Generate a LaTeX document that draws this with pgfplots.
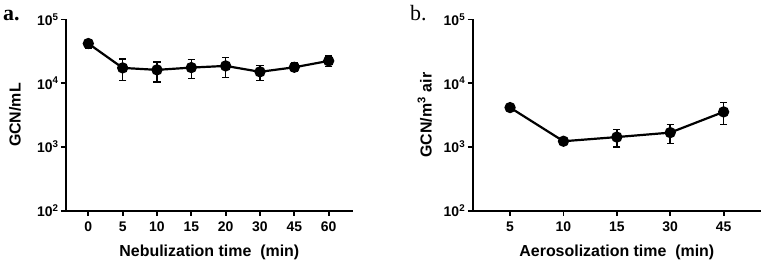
\documentclass[border=0pt]{standalone}
\usepackage{fontspec}
\setmainfont{Liberation Sans}
\newfontfamily\seriffont{Liberation Serif}
\usepackage{pgfplots}
\pgfplotsset{compat=1.18}
\pgfplotstableread{
x y ep em
0 42000 6500 6100
1 17400 6400 6300
2 16200 5400 5800
3 17600 6000 5800
4 18700 6600 6400
5 15100 3800 4000
6 17800 3000 2600
7 22400 4200 4100
}\dataA
\pgfplotstableread{
x y ep em
0 4150 470 430
1 1230 50 50
2 1430 460 440
3 1680 560 550
4 3550 1410 1310
}\dataB
\begin{document}
\begin{tikzpicture}
\useasboundingbox (0bp,0bp) rectangle (767bp,-266bp);
\begin{axis}[scale only axis,
    ymode=log, ymin=100, ymax=100000,
    axis x line*=bottom, axis y line*=left,
    axis line style={line width=2.2bp},
    every tick/.style={line width=1.8bp, black},
    tick align=outside, major tick length=5bp,
    yminorticks=false,
    ytick={100,1000,10000,100000},
    yticklabels={10\textsuperscript{2},10\textsuperscript{3},10\textsuperscript{4},10\textsuperscript{5}},
    tick label style={font=\bfseries\fontsize{14}{14}\selectfont},
    xticklabel style={yshift=-3bp},
    yticklabel style={xshift=1bp},
    label style={font=\bfseries\fontsize{16}{16}\selectfont},
    xlabel style={at={(axis description cs:0.5,0)}, anchor=center, yshift=-42bp},
    ylabel style={at={(axis description cs:0,0.5)}, anchor=center, yshift=51bp},
  at={(66bp,-210.7bp)}, anchor=south west,
  width=286.7bp, height=191.2bp,
  xmin=-0.65, xmax=7.7,
  xtick={0,...,7}, xticklabels={0,5,10,15,20,30,45,60},
  xlabel={Nebulization time\ \ (min)},
  ylabel={GCN/mL}]
\addplot[black, line width=2.2bp, mark=*, mark size=4.5bp,
    error bars/y dir=both, error bars/y explicit,
    error bars/error bar style={line width=1.6bp, black},
    error bars/error mark options={rotate=90, mark size=3.6bp, line width=1.6bp, black}]
  table[x=x, y=y, y error plus=ep, y error minus=em] {\dataA};
\end{axis}
\begin{axis}[scale only axis,
    ymode=log, ymin=100, ymax=100000,
    axis x line*=bottom, axis y line*=left,
    axis line style={line width=2.2bp},
    every tick/.style={line width=1.8bp, black},
    tick align=outside, major tick length=5bp,
    yminorticks=false,
    ytick={100,1000,10000,100000},
    yticklabels={10\textsuperscript{2},10\textsuperscript{3},10\textsuperscript{4},10\textsuperscript{5}},
    tick label style={font=\bfseries\fontsize{14}{14}\selectfont},
    xticklabel style={yshift=-3bp},
    yticklabel style={xshift=1bp},
    label style={font=\bfseries\fontsize{16}{16}\selectfont},
    xlabel style={at={(axis description cs:0.5,0)}, anchor=center, yshift=-42bp},
    ylabel style={at={(axis description cs:0,0.5)}, anchor=center, yshift=48bp},
  at={(472.7bp,-210.7bp)}, anchor=south west,
  width=288.3bp, height=191.2bp,
  xmin=-0.7, xmax=4.7,
  xtick={0,...,4}, xticklabels={5,10,15,30,45},
  xlabel={Aerosolization time\ \ (min)},
  ylabel={GCN/m\textsuperscript{3} air}]
\addplot[black, line width=2.2bp, mark=*, mark size=4.5bp,
    error bars/y dir=both, error bars/y explicit,
    error bars/error bar style={line width=1.6bp, black},
    error bars/error mark options={rotate=90, mark size=3.6bp, line width=1.6bp, black}]
  table[x=x, y=y, y error plus=ep, y error minus=em] {\dataB};
\end{axis}
\node[anchor=base west, inner sep=0, font=\seriffont\bfseries\fontsize{22}{22}\selectfont] at (3bp,-20.5bp) {a.};
\node[anchor=base west, inner sep=0, font=\seriffont\fontsize{22}{22}\selectfont] at (410bp,-20.5bp) {b.};
\end{tikzpicture}
\end{document}
